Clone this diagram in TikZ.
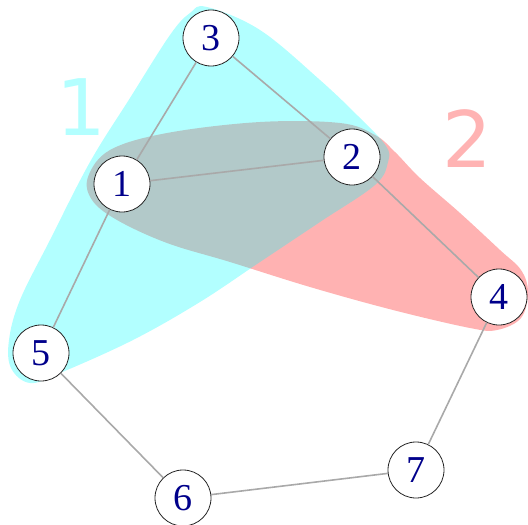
\documentclass[tikz,border=0pt]{standalone}
\usepackage{fontspec}
\setmainfont{Liberation Serif}
\newfontfamily\groupfont{DejaVu Sans}
\definecolor{edgegrey}{HTML}{A9A9A9}
\definecolor{labelblue}{HTML}{00008B}
\definecolor{hullcyan}{rgb}{0,1,1}
\definecolor{hullred}{rgb}{1,0,0}
\definecolor{groupcyan}{HTML}{B3FFFF}
\definecolor{groupred}{HTML}{FFB3B3}

\begin{document}
\begin{tikzpicture}[x=1pt, y=-1pt,
                vertex/.style={circle, draw=black!85, line width=0.8pt, fill=white, minimum size=56pt, inner sep=0pt, text=labelblue, font=\fontsize{38}{38}\selectfont},
                edge/.style={draw=edgegrey, line width=1.6pt},
                group/.style={inner sep=0pt, font=\groupfont\fontsize{78}{78}\selectfont}]
                \useasboundingbox (0,0) rectangle (528,525);
                \fill[hullred, fill opacity=0.3] plot[smooth cycle, tension=0.6] coordinates {(88,177) (110,150) (167,133) (260,122) (340,123) (375,135) (395,152) (420,178) (460,213) (500,250) (521,270) (528,292) (521,318) (497,330) (470,328) (393,310) (310,287) (230,262) (167,243) (117,220) (92,200)};
                \fill[hullcyan, fill opacity=0.3] plot[smooth cycle, tension=0.6] coordinates {(207,7) (260,30) (320,80) (360,118) (386,146) (388,162) (375,185) (320,222) (260,262) (200,302) (133,340) (60,373) (30,383) (11,368) (9,340) (20,300) (50,240) (90,162) (130,98) (170,35) (190,13)};
                \node[group, text=groupcyan] (G1) at (81,107) {1};
                \node[group, text=groupred] (G2) at (467,139) {2};
                \node[vertex] (V1) at (122,184) {1};
                \node[vertex] (V2) at (352,157) {2};
                \node[vertex] (V3) at (211,38) {3};
                \node[vertex] (V4) at (499,297) {4};
                \node[vertex] (V5) at (41,353) {5};
                \node[vertex] (V6) at (183,498) {6};
                \node[vertex] (V7) at (416,470) {7};
                \draw[edge] (V3) -- (V1);
                \draw[edge] (V3) -- (V2);
                \draw[edge] (V1) -- (V2);
                \draw[edge] (V1) -- (V5);
                \draw[edge] (V2) -- (V4);
                \draw[edge] (V4) -- (V7);
                \draw[edge] (V7) -- (V6);
                \draw[edge] (V6) -- (V5);
            \end{tikzpicture}
\end{document}
